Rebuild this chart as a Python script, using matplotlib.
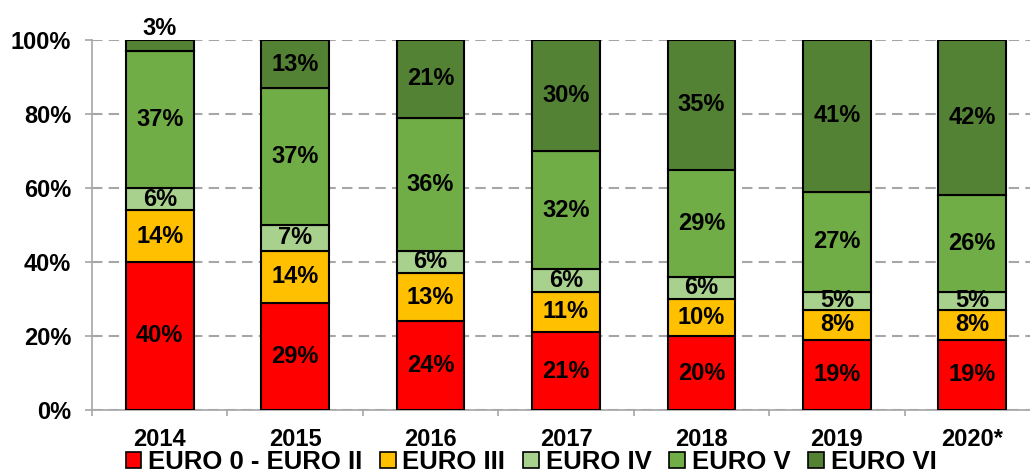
import matplotlib
matplotlib.use("Agg")
import matplotlib.pyplot as plt
from matplotlib.patches import Patch
import numpy as np

plt.rcParams['font.family'] = ['Liberation Sans', 'DejaVu Sans']
plt.rcParams['font.weight'] = 'bold'

years = ['2014', '2015', '2016', '2017', '2018', '2019', '2020*']
series_names = ['EURO 0 - EURO II', 'EURO III', 'EURO IV', 'EURO V', 'EURO VI']
euro0_2 = [40, 29, 24, 21, 20, 19, 19]
euro3 = [14, 14, 13, 11, 10, 8, 8]
euro4 = [6, 7, 6, 6, 6, 5, 5]
euro5 = [37, 37, 36, 32, 29, 27, 26]
euro6 = [3, 13, 21, 30, 35, 41, 42]
colors = ['#FF0000', '#FFC000', '#A9D18E', '#70AD47', '#548235']

data = [euro0_2, euro3, euro4, euro5, euro6]

fig = plt.figure(figsize=(10.3, 4.74), dpi=100)
ax = fig.add_axes([92/1030, 64/474, 948/1030, 370/474])

x = np.arange(len(years))
bottom = np.zeros(len(years))
grid_c = '#A6A6A6'
ax.set_axisbelow(True)
ax.yaxis.grid(True, color=grid_c, linestyle=(0, (5, 3)), linewidth=1.5)

for vals, col in zip(data, colors):
    v = np.array(vals) / 100.0
    ax.bar(x, v, 0.5, bottom=bottom, color=col, edgecolor='black', linewidth=1.5, zorder=3)
    for i, (b, h) in enumerate(zip(bottom, v)):
        if h < 0.04:
            ax.annotate(f"{vals[i]}%", (x[i], b + h), xytext=(0, 0), textcoords='offset points',
                        ha='center', va='bottom', fontsize=17, fontweight='bold', zorder=5)
        else:
            ax.text(x[i], b + h / 2, f"{vals[i]}%", ha='center', va='center',
                    fontsize=17, fontweight='bold', zorder=5)
    bottom = bottom + v

ax.set_xlim(-0.5, len(years) - 0.5)
ax.set_ylim(0, 1)
ax.set_yticks(np.arange(0, 1.01, 0.2))
ax.set_yticklabels([f"{int(round(t*100))}%" for t in np.arange(0, 1.01, 0.2)], fontsize=17, fontweight='bold')
ax.set_xticks(x)
ax.set_xticklabels(years, fontsize=17, fontweight='bold')
ax.set_xticks(np.arange(-0.5, len(years), 1), minor=True)
ax.tick_params(axis='x', which='major', length=0, pad=13)
ax.tick_params(axis='x', which='minor', length=4.5, color=grid_c, width=1.2)
ax.tick_params(axis='y', length=5, color=grid_c, width=1.2, pad=10)

for s in ['top', 'right']:
    ax.spines[s].set_visible(False)
for s in ['left', 'bottom']:
    ax.spines[s].set_color(grid_c)
    ax.spines[s].set_linewidth(1.2)

handles = [Patch(facecolor=c, edgecolor='black', linewidth=1.2) for c in colors]
fig.legend(handles, series_names, loc='center', bbox_to_anchor=(531/1030, 12/474), ncol=5,
           frameon=False, prop={'size': 18.5, 'weight': 'bold'}, handlelength=0.6, handleheight=0.6,
           handletextpad=0.27, columnspacing=0.7, borderpad=0, borderaxespad=0)

fig.savefig('out.png', dpi=100)
